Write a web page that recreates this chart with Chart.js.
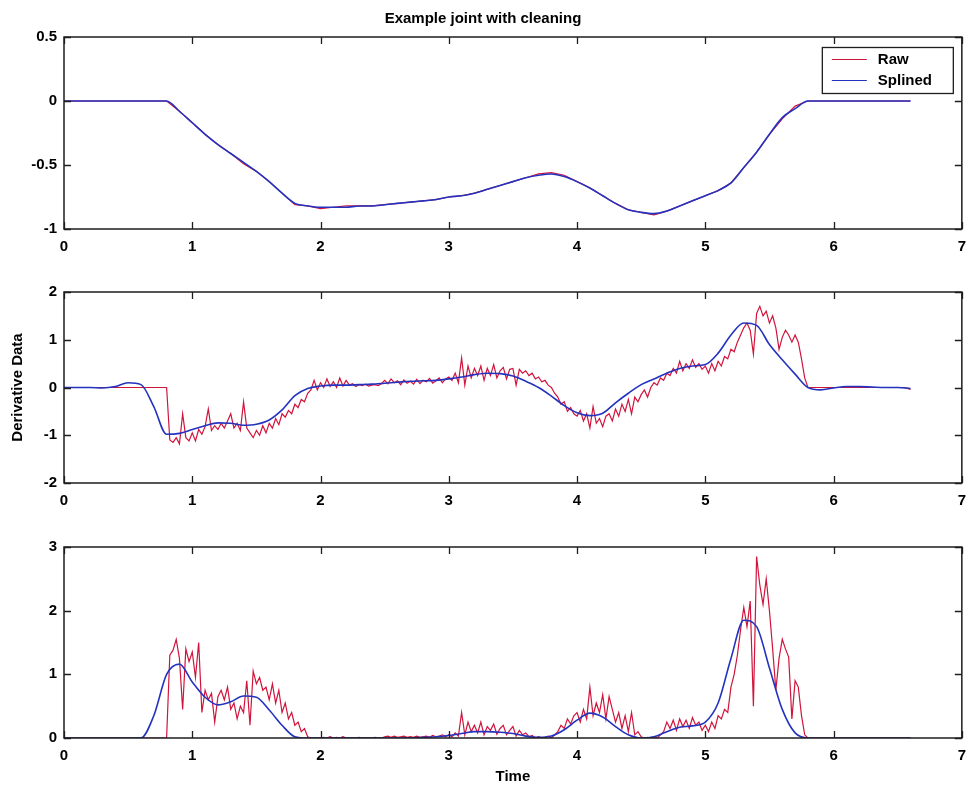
<!DOCTYPE html>
<html><head><meta charset="utf-8">
<script src="https://cdn.jsdelivr.net/npm/chart.js@4.4.1/dist/chart.umd.min.js"></script>
<style>
html,body{margin:0;padding:0;background:#fff;}
#wrap{position:relative;width:975px;height:791px;overflow:hidden;}
canvas{position:absolute;left:0;}
</style></head><body>
<div id="wrap">
<canvas id="c1" width="975" height="265" style="top:0px;width:975px;height:265px"></canvas>
<canvas id="c2" width="975" height="260" style="top:265px;width:975px;height:260px"></canvas>
<canvas id="c3" width="975" height="266" style="top:525px;width:975px;height:266px"></canvas>
</div>
<script>
// ---------- text ----------
const chartTitle = 'Example joint with cleaning';
const seriesNames = ['Raw', 'Splined'];
const yTitle2 = 'Derivative Data';
const xTitle3 = 'Time';

// ---------- tick labels ----------
const xTickValues = [0, 1, 2, 3, 4, 5, 6, 7];
const yTicks1 = [-1, -0.5, 0, 0.5];
const yTicks2 = [-2, -1, 0, 1, 2];
const yTicks3 = [0, 1, 2, 3];

// ---------- sample times of the splined curves (s) ----------
const splineTime = [0.0,0.1,0.2,0.3,0.4,0.5,0.6,0.7,0.8,0.9,
  1.0,1.1,1.2,1.3,1.4,1.5,1.6,1.7,1.8,1.9,
  2.0,2.1,2.2,2.3,2.4,2.5,2.6,2.7,2.8,2.9,
  3.0,3.1,3.2,3.3,3.4,3.5,3.6,3.7,3.8,3.9,
  4.0,4.1,4.2,4.3,4.4,4.5,4.6,4.7,4.8,4.9,
  5.0,5.1,5.2,5.3,5.4,5.5,5.6,5.7,5.8,5.9,
  6.0,6.1,6.2,6.3,6.4,6.5,6.6];

// ---------- panel 1: joint position ----------
const posSplined = [0,0,0,0,0,0,0,0,0,-0.08,
  -0.17,-0.26,-0.34,-0.41,-0.48,-0.55,-0.63,-0.72,-0.80,-0.82,
  -0.83,-0.83,-0.83,-0.82,-0.82,-0.81,-0.80,-0.79,-0.78,-0.77,
  -0.75,-0.74,-0.72,-0.69,-0.66,-0.63,-0.60,-0.58,-0.57,-0.59,
  -0.63,-0.68,-0.74,-0.80,-0.85,-0.87,-0.88,-0.86,-0.82,-0.78,
  -0.74,-0.70,-0.64,-0.52,-0.40,-0.26,-0.13,-0.06,0,0,
  0,0,0,0,0,0,0];
const posRaw = [0,0,0,0,0,0,0,0,0,-0.08,
  -0.17,-0.26,-0.34,-0.41,-0.49,-0.55,-0.63,-0.72,-0.81,-0.82,
  -0.84,-0.83,-0.82,-0.82,-0.82,-0.81,-0.80,-0.79,-0.78,-0.77,
  -0.75,-0.74,-0.72,-0.69,-0.66,-0.63,-0.60,-0.57,-0.56,-0.58,
  -0.63,-0.68,-0.74,-0.80,-0.85,-0.87,-0.89,-0.86,-0.82,-0.78,
  -0.74,-0.70,-0.64,-0.52,-0.40,-0.26,-0.14,-0.04,0,0,
  0,0,0,0,0,0,0];

// ---------- panel 2: derivative (splined) ----------
const derivSplined = [0,0,0,-0.01,0.02,0.10,0.06,-0.40,-0.98,-0.96,
  -0.88,-0.80,-0.74,-0.75,-0.79,-0.77,-0.68,-0.47,-0.17,-0.02,
  0.03,0.05,0.05,0.06,0.07,0.09,0.11,0.13,0.14,0.15,
  0.18,0.22,0.27,0.30,0.29,0.24,0.13,0.00,-0.18,-0.38,
  -0.53,-0.59,-0.54,-0.32,-0.12,0.06,0.18,0.30,0.40,0.45,
  0.48,0.72,1.10,1.35,1.30,0.90,0.58,0.28,0.00,-0.05,
  -0.01,0.02,0.02,0.01,0.00,0.00,-0.02];

// ---------- panel 3: magnitude (splined) ----------
const magSplined = [0,0,0,0,0,0,0,0.35,1.00,1.16,
  0.88,0.64,0.52,0.57,0.66,0.64,0.44,0.20,0.02,0,
  0,0,0,0,0,0,0,0,0.01,0.02,
  0.04,0.07,0.10,0.10,0.09,0.07,0.03,0.01,0.03,0.13,
  0.28,0.39,0.33,0.18,0.05,0.00,0.02,0.10,0.17,0.19,
  0.25,0.55,1.25,1.85,1.75,1.10,0.45,0.08,0,0,
  0,0,0,0,0,0,0];

// ---------- sample times of the raw (noisy) signals (s) ----------
const rawTime = [0,
  0.800,0.825,0.850,0.875,0.900,0.925,0.950,0.975,
  1.000,1.025,1.050,1.075,1.100,1.125,1.150,1.175,1.200,1.225,
  1.250,1.275,1.300,1.325,1.350,1.375,1.400,1.425,1.450,1.475,
  1.500,1.525,1.550,1.575,1.600,1.625,1.650,1.675,1.700,1.725,
  1.750,1.775,1.800,1.825,1.850,1.875,1.900,1.925,1.950,1.975,
  2.000,2.025,2.050,2.075,2.100,2.125,2.150,2.175,2.200,2.225,
  2.250,2.275,2.300,2.325,2.350,2.375,2.400,2.425,2.450,2.475,
  2.500,2.525,2.550,2.575,2.600,2.625,2.650,2.675,2.700,2.725,
  2.750,2.775,2.800,2.825,2.850,2.875,2.900,2.925,2.950,2.975,
  3.000,3.025,3.050,3.075,3.100,3.125,3.150,3.175,3.200,3.225,
  3.250,3.275,3.300,3.325,3.350,3.375,3.400,3.425,3.450,3.475,
  3.500,3.525,3.550,3.575,3.600,3.625,3.650,3.675,3.700,3.725,
  3.750,3.775,3.800,3.825,3.850,3.875,3.900,3.925,3.950,3.975,
  4.000,4.025,4.050,4.075,4.100,4.125,4.150,4.175,4.200,4.225,
  4.250,4.275,4.300,4.325,4.350,4.375,4.400,4.425,4.450,4.475,
  4.500,4.525,4.550,4.575,4.600,4.625,4.650,4.675,4.700,4.725,
  4.750,4.775,4.800,4.825,4.850,4.875,4.900,4.925,4.950,4.975,
  5.000,5.025,5.050,5.075,5.100,5.125,5.150,5.175,5.200,5.225,
  5.250,5.275,5.300,5.325,5.350,5.375,5.400,5.425,5.450,5.475,
  5.500,5.525,5.550,5.575,5.600,5.625,5.650,5.675,5.700,5.725,
  5.750,5.775,5.800,
  6.000,6.400,6.550,6.600];

const derivRaw = [0,
  0,-1.10,-1.15,-1.05,-1.18,-0.55,-1.05,-1.12,
  -0.95,-1.12,-0.88,-0.98,-0.82,-0.45,-0.90,-0.80,-0.88,-0.75,
  -0.85,-0.70,-0.55,-0.85,-0.75,-0.90,-0.30,-0.85,-0.95,-1.05,
  -0.90,-1.00,-0.80,-0.95,-0.75,-0.85,-0.65,-0.78,-0.55,-0.62,
  -0.48,-0.55,-0.35,-0.42,-0.25,-0.30,-0.12,-0.05,0.15,-0.05,
  0.10,0.00,0.18,0.02,0.12,0.00,0.20,0.03,0.15,0.05,
  0.08,0.02,0.06,0.04,0.07,0.03,0.05,0.06,0.04,0.08,
  0.15,0.08,0.18,0.10,0.14,0.06,0.16,0.09,0.13,0.07,
  0.17,0.08,0.15,0.12,0.19,0.09,0.14,0.20,0.10,0.18,
  0.22,0.15,0.30,0.10,0.62,0.05,0.45,0.20,0.40,0.25,
  0.45,0.15,0.40,0.25,0.48,0.20,0.35,0.42,0.18,0.38,
  0.40,0.05,0.38,0.30,0.35,0.25,0.30,0.18,0.22,0.12,
  0.15,0.05,0.00,-0.12,-0.20,-0.35,-0.30,-0.50,-0.42,-0.55,
  -0.60,-0.48,-0.70,-0.55,-0.85,-0.40,-0.75,-0.65,-0.82,-0.60,
  -0.55,-0.70,-0.45,-0.60,-0.35,-0.50,-0.25,-0.55,-0.20,-0.30,
  -0.15,-0.05,-0.20,0.00,0.10,0.05,0.20,0.15,0.30,0.25,
  0.40,0.30,0.55,0.35,0.50,0.40,0.58,0.42,0.50,0.38,
  0.45,0.30,0.50,0.35,0.55,0.45,0.65,0.60,0.80,0.75,
  0.95,1.10,1.25,1.35,1.20,0.70,1.55,1.70,1.50,1.60,
  1.35,1.50,1.25,0.80,1.05,1.20,1.10,0.95,1.10,0.95,
  0.60,0.20,0.00,
  0.00,0.00,0.00,-0.04];

const magRaw = [0,
  0,1.30,1.38,1.55,1.25,0.45,1.40,1.20,
  1.35,0.95,1.50,0.40,0.75,0.60,0.70,0.25,0.65,0.75,
  0.60,0.80,0.45,0.55,0.30,0.50,0.40,0.90,0.20,1.05,
  0.85,0.95,0.75,0.80,0.60,0.85,0.55,0.75,0.40,0.55,
  0.30,0.40,0.20,0.25,0.10,0.15,0.02,0.00,0.00,0.00,
  0.00,0.01,0.00,0.02,0.00,0.01,0.00,0.02,0.00,0.00,
  0.00,0.00,0.01,0.00,0.00,0.00,0.00,0.01,0.00,0.00,
  0.02,0.03,0.01,0.03,0.01,0.02,0.03,0.01,0.02,0.01,
  0.03,0.01,0.02,0.03,0.01,0.04,0.02,0.03,0.05,0.02,
  0.05,0.02,0.08,0.03,0.40,0.05,0.25,0.10,0.20,0.08,
  0.25,0.05,0.18,0.12,0.22,0.06,0.15,0.20,0.05,0.12,
  0.18,0.03,0.12,0.05,0.08,0.02,0.04,0.00,0.02,0.00,
  0.01,0.03,0.00,0.05,0.10,0.20,0.15,0.30,0.22,0.35,
  0.40,0.25,0.45,0.30,0.80,0.35,0.55,0.40,0.68,0.30,
  0.65,0.45,0.25,0.40,0.15,0.35,0.10,0.40,0.05,0.10,
  0.02,0.00,0.01,0.00,0.02,0.00,0.05,0.10,0.25,0.15,
  0.28,0.12,0.30,0.18,0.28,0.15,0.32,0.20,0.25,0.12,
  0.20,0.10,0.25,0.15,0.35,0.30,0.45,0.40,0.80,1.00,
  1.30,1.70,2.05,1.75,2.15,0.50,2.85,2.40,2.10,2.50,
  2.00,1.40,0.75,1.25,1.55,1.40,1.27,0.30,0.90,0.80,
  0.35,0.05,0.00,
  0.00,0.00,0.00,0.00];

// ---------- drawing ----------
const FONT = "'Liberation Sans', Arial, Helvetica, sans-serif";
const RAW_COLOR = '#d0143c';
const SPL_COLOR = '#2433bf';
const AXIS_COLOR = '#1e1e1e';

function pts(xs, ys) {
  const n = Math.min(xs.length, ys.length);
  const out = [];
  for (let i = 0; i < n; i++) out.push({x: xs[i], y: ys[i]});
  return out;
}

const frameTicks = {
  id: 'frameTicks',
  afterDraw(chart) {
    const {ctx, chartArea: a, scales} = chart;
    ctx.save();
    ctx.strokeStyle = AXIS_COLOR;
    ctx.lineWidth = 1.5;
    ctx.strokeRect(a.left, a.top, a.right - a.left, a.bottom - a.top);
    ctx.lineWidth = 1.3;
    const L = 7;
    ctx.beginPath();
    scales.x.ticks.forEach(t => {
      const px = Math.round(scales.x.getPixelForValue(t.value)) + 0.5;
      ctx.moveTo(px, a.bottom); ctx.lineTo(px, a.bottom - L);
      ctx.moveTo(px, a.top); ctx.lineTo(px, a.top + L);
    });
    scales.y.ticks.forEach(t => {
      const py = Math.round(scales.y.getPixelForValue(t.value)) + 0.5;
      ctx.moveTo(a.left, py); ctx.lineTo(a.left + L, py);
      ctx.moveTo(a.right, py); ctx.lineTo(a.right - L, py);
    });
    ctx.stroke();
    ctx.restore();
  }
};

const boxLegend = {
  id: 'boxLegend',
  afterDraw(chart) {
    const {ctx, chartArea: a} = chart;
    const w = 131, h = 46;
    const x0 = a.right - 9 - w, y0 = a.top + 10;
    ctx.save();
    ctx.fillStyle = '#fff';
    ctx.fillRect(x0, y0, w, h);
    ctx.strokeStyle = AXIS_COLOR;
    ctx.lineWidth = 1.3;
    ctx.strokeRect(x0 + 0.5, y0 + 0.5, w, h);
    ctx.font = "bold 15px " + FONT;
    ctx.textBaseline = 'middle';
    ctx.textAlign = 'left';
    chart.data.datasets.forEach((ds, i) => {
      const yy = y0 + 12 + i * 21;
      ctx.strokeStyle = ds.borderColor;
      ctx.lineWidth = 1;
      ctx.beginPath();
      ctx.moveTo(x0 + 10, yy + 0.5); ctx.lineTo(x0 + 45, yy + 0.5);
      ctx.stroke();
      ctx.fillStyle = '#000';
      ctx.fillText(ds.label, x0 + 56, yy + 1);
    });
    ctx.restore();
  }
};

function makeChart(id, cfg) {
  const xScale = {
    type: 'linear', min: 0, max: 7,
    afterBuildTicks: s => { s.ticks = xTickValues.map(v => ({value: v})); },
    ticks: {autoSkip: false, maxRotation: 0, padding: cfg.xPad, color: '#000',
            callback: v => String(v),
            font: {family: FONT, size: 15, weight: 'bold'}},
    grid: {display: false, drawTicks: false},
    border: {display: false},
    afterFit: s => { s.height = cfg.xH; }
  };
  if (cfg.xTitle) {
    xScale.title = {display: true, text: cfg.xTitle, color: '#000',
      font: {family: FONT, size: 15, weight: 'bold'}, padding: {top: 0, bottom: 5}};
  }
  const yScale = {
    type: 'linear', min: cfg.yTicks[0], max: cfg.yTicks[cfg.yTicks.length - 1],
    afterBuildTicks: s => { s.ticks = cfg.yTicks.map(v => ({value: v})); },
    ticks: {padding: 7, color: '#000', callback: v => String(v),
            font: {family: FONT, size: 15, weight: 'bold'}},
    grid: {display: false, drawTicks: false},
    border: {display: false},
    afterFit: s => { s.width = 64; }
  };
  if (cfg.yTitle) {
    yScale.title = {display: true, text: cfg.yTitle, color: '#000',
      font: {family: FONT, size: 15, weight: 'bold'}, padding: {top: 9, bottom: 0}};
  }
  return new Chart(document.getElementById(id), {
    type: 'line',
    data: {
      datasets: [
        {label: seriesNames[0], data: pts(cfg.rawX, cfg.rawY), borderColor: RAW_COLOR,
         borderWidth: 1.2, pointRadius: 0, tension: 0, order: 1},
        {label: seriesNames[1], data: pts(splineTime, cfg.splY), borderColor: SPL_COLOR,
         borderWidth: 1.6, pointRadius: 0, cubicInterpolationMode: 'monotone', order: 0}
      ]
    },
    options: {
      responsive: false, animation: false, events: [],
      layout: {padding: {left: 0, right: 9, top: cfg.padTop, bottom: 0}},
      plugins: {
        legend: {display: false},
        tooltip: {enabled: false},
        title: cfg.title ? {display: true, text: cfg.title, color: '#000',
          font: {family: FONT, size: 15, weight: 'bold'}, padding: {top: 10, bottom: 9}}
          : {display: false}
      },
      scales: {x: xScale, y: yScale}
    },
    plugins: cfg.legend ? [frameTicks, boxLegend] : [frameTicks]
  });
}

makeChart('c1', {title: chartTitle, padTop: 0, xH: 36, xPad: 9, yTicks: yTicks1,
  rawX: splineTime, rawY: posRaw, splY: posSplined, legend: true});
makeChart('c2', {padTop: 27, xH: 42, xPad: 9, yTicks: yTicks2, yTitle: yTitle2,
  rawX: rawTime, rawY: derivRaw, splY: derivSplined});
makeChart('c3', {padTop: 22, xH: 53, xPad: 9, yTicks: yTicks3, xTitle: xTitle3,
  rawX: rawTime, rawY: magRaw, splY: magSplined});
</script>
</body></html>
